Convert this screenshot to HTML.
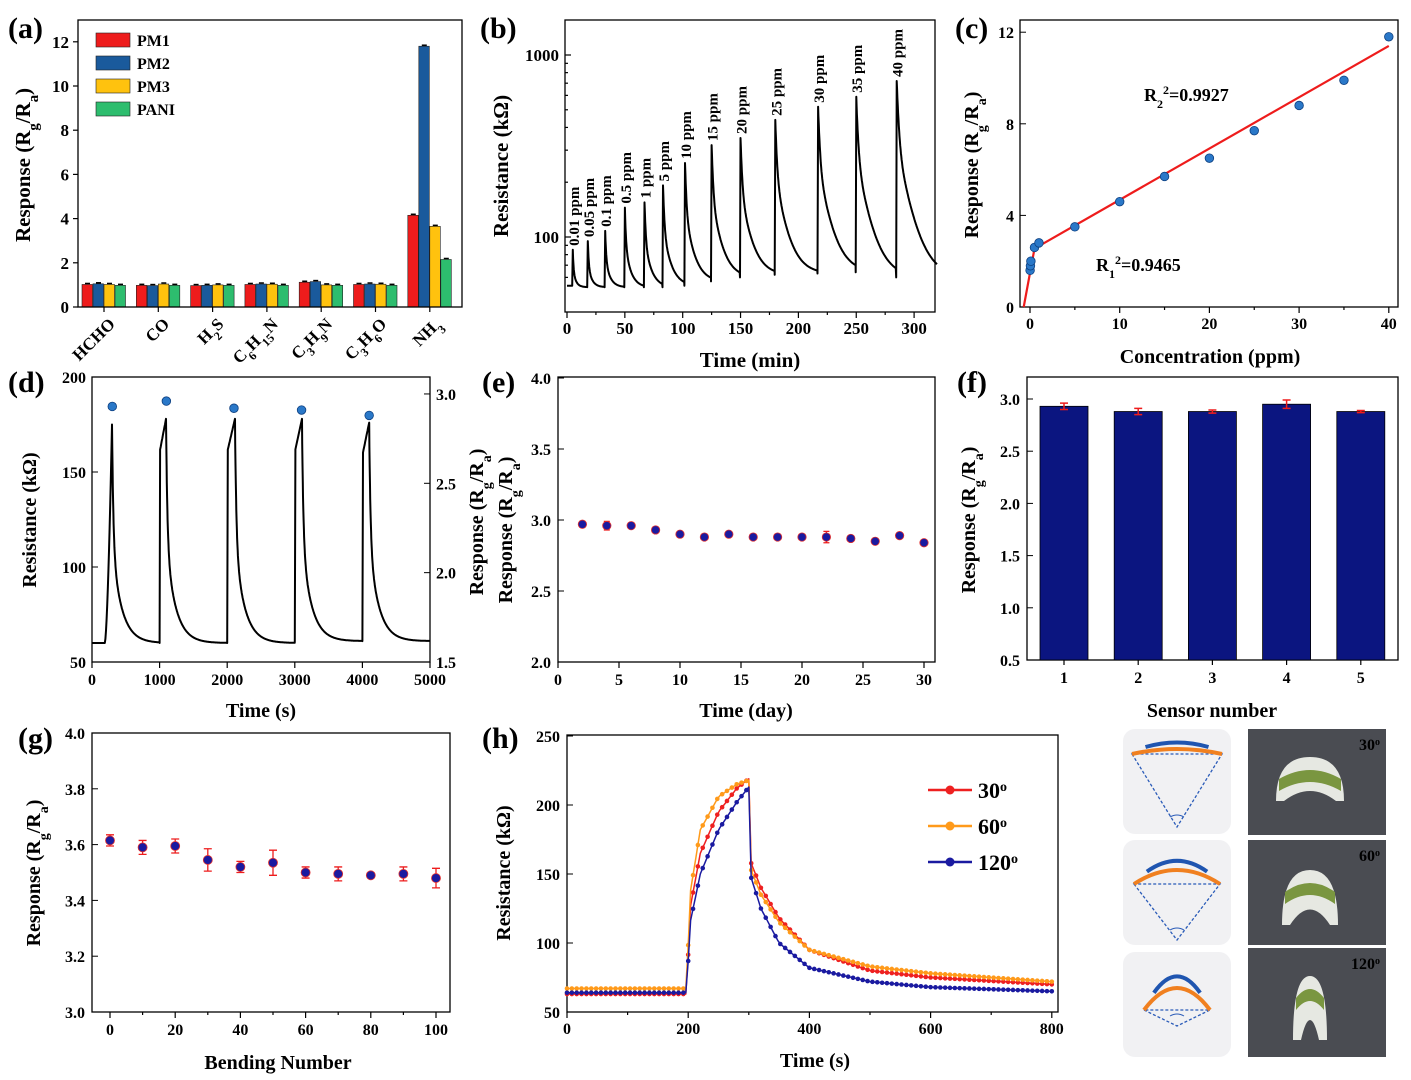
<!DOCTYPE html>
<html><head><meta charset="utf-8">
<style>
html,body{margin:0;padding:0;background:#fff;}
svg{display:block;font-family:"Liberation Serif",serif;font-weight:bold;}
</style></head>
<body>
<svg id="fig" width="1411" height="1080" viewBox="0 0 1411 1080" xmlns="http://www.w3.org/2000/svg">
</svg>
<script>
// ---------- data arrays ----------
const aCats = ['HCHO','CO','H2S','C6H15N','C3H9N','C3H6O','NH3'];
const aPM1 = [1.02,0.98,0.97,1.02,1.12,1.02,4.15];
const aPM2 = [1.05,0.97,0.98,1.04,1.15,1.04,11.8];
const aPM3 = [1.02,1.04,1.0,1.03,1.0,1.03,3.65];
const aPANI = [0.98,0.98,0.98,0.98,0.98,0.98,2.15];
const aSeriesNames = ['PM1','PM2','PM3','PANI'];
const aTicks = [0,2,4,6,8,10,12];

const bPeakTimes = [5,18,33,50,67,83,102,125,150,180,217,250,285];
const bPeakVals = [85,95,108,145,155,192,255,320,350,440,520,590,720];
const bBaseVals = [54,53,53,53,53,53,54,57,60,62,63,64,60];
const bLabels = ['0.01 ppm','0.05 ppm','0.1 ppm','0.5 ppm','1 ppm','5 ppm','10 ppm','15 ppm','20 ppm','25 ppm','30 ppm','35 ppm','40 ppm'];
const bXTicks = [0,50,100,150,200,250,300];

const cConc = [0.01,0.05,0.1,0.5,1,5,10,15,20,25,30,35,40];
const cResp = [1.6,1.8,2.0,2.6,2.8,3.5,4.6,5.7,6.5,7.7,8.8,9.9,11.8];
const cFitX = [-0.7,0.5,40];
const cFitY = [0,2.55,11.4];
const cXTicks = [0,10,20,30,40];
const cYTicks = [0,4,8,12];

const dOnsets = [190,1000,2000,3000,4000];
const dPeakT = [296,1095,2115,3106,4100];
const dPeakV = [175,178,178,178,176];
const dBase = [60,60,60,61,61];
const dRespT = [300,1100,2100,3100,4100];
const dRespV = [2.93,2.96,2.92,2.91,2.88];
const dXTicks = [0,1000,2000,3000,4000,5000];
const dYTicks = [50,100,150,200];
const dY2Ticks = [1.5,2.0,2.5,3.0];

const eDays = [2,4,6,8,10,12,14,16,18,20,22,24,26,28,30];
const eResp = [2.97,2.96,2.96,2.93,2.90,2.88,2.90,2.88,2.88,2.88,2.88,2.87,2.85,2.89,2.84];
const eErr = [0.02,0.03,0.015,0.02,0.02,0.015,0.01,0.01,0.01,0.015,0.04,0.02,0.01,0.015,0.01];
const eXTicks = [0,5,10,15,20,25,30];
const eYTicks = [2.0,2.5,3.0,3.5,4.0];

const fSensors = [1,2,3,4,5];
const fResp = [2.93,2.88,2.88,2.95,2.88];
const fErr = [0.03,0.03,0.015,0.04,0.01];
const fYTicks = [0.5,1.0,1.5,2.0,2.5,3.0];

const gBend = [0,10,20,30,40,50,60,70,80,90,100];
const gResp = [3.615,3.59,3.595,3.545,3.52,3.535,3.50,3.495,3.49,3.495,3.48];
const gErr = [0.02,0.025,0.025,0.04,0.02,0.045,0.02,0.025,0.008,0.025,0.035];
const gXTicks = [0,20,40,60,80,100];
const gYTicks = [3.0,3.2,3.4,3.6,3.8,4.0];

const hT = [0,199,201,220,250,280,300,302,320,350,400,500,600,800];
const h30 = [63,63,120,165,195,212,219,160,140,118,95,80,75,70];
const h60 = [67,67,130,182,206,215,218,155,135,115,95,83,78,72];
const h120 = [64,64,110,150,182,202,213,150,125,100,82,72,68,65];
const hNames = ['30°','60°','120°'];
const hXTicks = [0,200,400,600,800];
const hYTicks = [50,100,150,200,250];

// ---------- helpers ----------
const NS='http://www.w3.org/2000/svg';
const svg=document.getElementById('fig');
function mk(tag,attrs,parent){const e=document.createElementNS(NS,tag);for(const k in attrs)e.setAttribute(k,attrs[k]);(parent||svg).appendChild(e);return e;}
function txt(s,x,y,size,anchor,parent,rot){const t=mk('text',{x:x,y:y,'font-size':size,'text-anchor':anchor||'middle',fill:'#000'},parent);t.textContent=s;if(rot!==undefined)t.setAttribute('transform','rotate('+rot+' '+x+' '+y+')');return t;}
function frame(x0,y0,x1,y1){const r=mk('rect',{x:x0,y:y0,width:x1-x0,height:y1-y0,fill:'none',stroke:'#000','stroke-width':1.3});

return r;}
function tickX(x,y,len){mk('line',{x1:x,y1:y,x2:x,y2:y+len,stroke:'#000','stroke-width':1.2});}
function tickY(x,y,len){mk('line',{x1:x,y1:y,x2:x-len,y2:y,stroke:'#000','stroke-width':1.2});}
function respTitle(x,y,size){const t=mk('text',{x:x,y:y,'font-size':size,'text-anchor':'middle',transform:'rotate(-90 '+x+' '+y+')'});
t.innerHTML='Response (R<tspan baseline-shift="sub" font-size="'+(size*0.7)+'">g</tspan>/R<tspan baseline-shift="sub" font-size="'+(size*0.7)+'">a</tspan>)';return t;}
function panelLabel(s,x,y){const t=txt(s,x,y,30,'start');

}
function poly(pts,color,w,parent){return mk('polyline',{points:pts.map(p=>p[0].toFixed(1)+','+p[1].toFixed(1)).join(' '),fill:'none',stroke:color,'stroke-width':w,'stroke-linejoin':'round'},parent);}

// ---------- panel (a) ----------
(function(){
const g=mk('g',{});


const X0=78,X1=462,Y0=20,Y1=307;
const y=v=>Y1-v*22.1;
const cx=i=>104+i*54.3;
const colors=['#ee1c1c','#1a5a9c','#ffc20e','#2dbd6e'];
const series=[aPM1,aPM2,aPM3,aPANI];
series.forEach((s,k)=>{s.forEach((v,i)=>{
 const r=mk('rect',{x:cx(i)-22+k*11,y:y(v),width:10.5,height:Y1-y(v),fill:colors[k],stroke:'#222','stroke-width':0.6},g);
 
 
 mk('line',{x1:cx(i)-19+k*11,x2:cx(i)-14+k*11,y1:y(v)-1,y2:y(v)-1,stroke:'#000','stroke-width':1.5},g);
});});
frame(X0,Y0,X1,Y1);
aTicks.forEach(v=>{tickY(X0,y(v),5);txt(String(v),X0-9,y(v)+6,17,'end');});
aCats.forEach((c,i)=>{tickX(cx(i),Y1,5);
 const lab={'HCHO':'HCHO','CO':'CO','H2S':'H<tspan baseline-shift="sub" font-size="12">2</tspan>S','C6H15N':'C<tspan baseline-shift="sub" font-size="12">6</tspan>H<tspan baseline-shift="sub" font-size="12">15</tspan>N','C3H9N':'C<tspan baseline-shift="sub" font-size="12">3</tspan>H<tspan baseline-shift="sub" font-size="12">9</tspan>N','C3H6O':'C<tspan baseline-shift="sub" font-size="12">3</tspan>H<tspan baseline-shift="sub" font-size="12">6</tspan>O','NH3':'NH<tspan baseline-shift="sub" font-size="12">3</tspan>'}[c];
 const t=mk('text',{x:cx(i)+12,y:Y1+18,'font-size':17,'text-anchor':'end',transform:'rotate(-45 '+(cx(i)+12)+' '+(Y1+18)+')'});
 t.innerHTML=lab;
 
 });
const yt=respTitle(30,165,21);


aSeriesNames.forEach((n,k)=>{
 const r=mk('rect',{x:96,y:33+k*23,width:34,height:14,fill:colors[k],stroke:'#222','stroke-width':0.6});
 
 
 const t=txt(n,137,46+k*23,16,'start');
 
 });
panelLabel('(a)',8,38);
})();

// ---------- panel (b) ----------
(function(){
const X0=565,X1=935,Y0=20,Y1=312;
const x=t=>567+t*1.157;
const y=v=>237-(Math.log10(v)-2)*182;
frame(X0,Y0,X1,Y1);
bXTicks.forEach(t=>{tickX(x(t),Y1,6);txt(String(t),x(t),Y1+22,17);});
bXTicks.slice(0,-1).forEach(t=>tickX(x(t+25),Y1,3));
[60,70,80,90,100,200,300,400,500,600,700,800,900,1000].forEach(v=>{const yy=y(v);if(yy>Y0&&yy<Y1){mk('line',{x1:X0,x2:X0+(v===100||v===1000?6:3),y1:yy,y2:yy,stroke:'#000','stroke-width':1.2});}});
txt('1000',X0-6,y(1000)+6,17,'end');txt('100',X0-6,y(100)+6,17,'end');
const pts=[[0,bBaseVals[0]]];
bPeakTimes.forEach((tp,i)=>{
 const base=bBaseVals[i];pts.push([tp-0.5,base]);pts.push([tp,bPeakVals[i]]);
 const tend=i<bPeakTimes.length-1?bPeakTimes[i+1]-0.5:320;
 const nb=i<bPeakTimes.length-1?bBaseVals[i+1]:bBaseVals[i];
 const k1=0.6+0.08*i, k2=2.5+0.7*i;
 for(let t=tp+0.3;t<=tend;t+=0.3){const dt=t-tp;pts.push([t,nb+(bPeakVals[i]-nb)*(0.6*Math.exp(-dt/k1)+0.4*Math.exp(-dt/k2))]);}
});
const p=poly(pts.map(q=>[x(q[0]),y(q[1])]),'#000',2);


bPeakTimes.forEach((tp,i)=>{const t=txt(bLabels[i],x(tp)+6,y(bPeakVals[i])-4,15,'start',svg,-90);
 
 });
const yt=txt('Resistance (kΩ)',508,166,21,'middle',svg,-90);


const xt=txt('Time (min)',750,367,21);


panelLabel('(b)',480,38);
})();

// ---------- panel (c) ----------
(function(){
const X0=1020,X1=1398,Y0=20,Y1=307;
const x=v=>1030+v*8.97;const y=v=>307-v*22.9;
frame(X0,Y0,X1,Y1);
cXTicks.forEach(v=>{tickX(x(v),Y1,6);txt(String(v),x(v),Y1+22,16);});
cXTicks.slice(0,-1).forEach(v=>tickX(x(v+5),Y1,3));
cYTicks.forEach(v=>{mk('line',{x1:X0,x2:X0+6,y1:y(v),y2:y(v),stroke:'#000'});txt(String(v),X0-6,y(v)+6,16,'end');});
const f=poly(cFitX.map((v,i)=>[x(v),y(cFitY[i])]),'#ee1c1c',2.2);


cConc.forEach((c,i)=>{const d=mk('circle',{cx:x(c),cy:y(cResp[i]),r:4.3,fill:'#2a78c8',stroke:'#0d3f80','stroke-width':0.8});
 
 });
const t1=mk('text',{x:1144,y:101,'font-size':18});t1.innerHTML='R<tspan baseline-shift="sub" font-size="12">2</tspan><tspan baseline-shift="super" font-size="12">2</tspan>=0.9927';


const t2=mk('text',{x:1096,y:271,'font-size':18});t2.innerHTML='R<tspan baseline-shift="sub" font-size="12">1</tspan><tspan baseline-shift="super" font-size="12">2</tspan>=0.9465';


const yt=respTitle(978,165,20);


const xt=txt('Concentration (ppm)',1210,363,20);


panelLabel('(c)',955,38);
})();

// ---------- panel (d) ----------
(function(){
const X0=92,X1=430,Y0=377,Y1=662;
const x=t=>92+t*0.0676;const y=v=>662-(v-50)*1.9;const y2=v=>662-(v-1.5)*178.7;
frame(X0,Y0,X1,Y1);
dXTicks.forEach(t=>{tickX(x(t),Y1,6);txt(String(t),x(t),Y1+23,16);});
dYTicks.forEach(v=>{mk('line',{x1:X0,x2:X0+6,y1:y(v),y2:y(v),stroke:'#000'});txt(String(v),X0-6,y(v)+6,16,'end');});
dY2Ticks.forEach(v=>{mk('line',{x1:X1,x2:X1-6,y1:y2(v),y2:y2(v),stroke:'#000'});txt(v.toFixed(1),X1+6,y2(v)+6,16,'start');});
const pts=[[0,dBase[0]]];
dOnsets.forEach((to,i)=>{
 pts.push([to,dBase[i]]);
 const rise=dPeakT[i]-to;
 for(let s=1;s<=12;s++){const f=s/12;pts.push([to+rise*f,dBase[i]+(dPeakV[i]-dBase[i])*(i===0?Math.pow(f,1.6):0.85+0.15*f)]);}
 const tend=i<dOnsets.length-1?dOnsets[i+1]:5000;
 for(let t=dPeakT[i]+4;t<=tend;t+=4){const dt=t-dPeakT[i];pts.push([t,dBase[i]+(dPeakV[i]-dBase[i])*(0.55*Math.exp(-dt/20)+0.45*Math.exp(-dt/140))]);}
});
const p=poly(pts.map(q=>[x(q[0]),y(q[1])]),'#000',2);


dRespT.forEach((t,i)=>{const d=mk('circle',{cx:x(t),cy:y2(dRespV[i]),r:4.3,fill:'#2a78c8',stroke:'#0d3f80','stroke-width':0.8});
 
 });
const yt=txt('Resistance (kΩ)',36,520,20,'middle',svg,-90);


const xt=txt('Time (s)',261,717,20);


panelLabel('(d)',8,392);
})();

// ---------- panel (e) ----------
(function(){
const X0=558,X1=935,Y0=377,Y1=662;
const x=v=>558+v*12.2;const y=v=>662-(v-2)*142;
frame(X0,Y0,X1,Y1);
eXTicks.forEach(v=>{tickX(x(v),Y1,6);txt(String(v),x(v),Y1+23,16);});
eYTicks.forEach(v=>{mk('line',{x1:X0,x2:X0+6,y1:y(v),y2:y(v),stroke:'#000'});txt(v.toFixed(1),X0-7,y(v)+6,16,'end');});
eDays.forEach((d,i)=>{
 const e=mk('path',{d:'M'+(x(d)-3)+','+y(eResp[i]+eErr[i])+'h6M'+x(d)+','+y(eResp[i]+eErr[i])+'V'+y(eResp[i]-eErr[i])+'M'+(x(d)-3)+','+y(eResp[i]-eErr[i])+'h6',stroke:'#ee1c1c','stroke-width':1.3,fill:'none'});
 
 
 const c=mk('circle',{cx:x(d),cy:y(eResp[i]),r:4.2,fill:'#1a1aa0',stroke:'#e03030','stroke-width':0.8});
 
 });
const yt=respTitle(483,522,20);


const yt2=respTitle(512,530,20);


const xt=txt('Time (day)',746,717,20);


panelLabel('(e)',482,392);
})();

// ---------- panel (f) ----------
(function(){
const X0=1027,X1=1398,Y0=377,Y1=660;
const x=v=>1064+(v-1)*74.2;const y=v=>660-(v-0.5)*104.4;
frame(X0,Y0,X1,Y1);
fSensors.forEach((s,i)=>{
 const r=mk('rect',{x:x(s)-24,y:y(fResp[i]),width:48,height:Y1-y(fResp[i]),fill:'#0b1580',stroke:'#000','stroke-width':0.8});
 
 
 const e=mk('path',{d:'M'+(x(s)-4)+','+y(fResp[i]+fErr[i])+'h8M'+x(s)+','+y(fResp[i]+fErr[i])+'V'+y(fResp[i]-fErr[i])+'M'+(x(s)-4)+','+y(fResp[i]-fErr[i])+'h8',stroke:'#ee1c1c','stroke-width':1.5,fill:'none'});
 
 
 tickX(x(s),Y1,5);txt(String(s),x(s),Y1+23,16);});
fYTicks.forEach(v=>{mk('line',{x1:X0,x2:X0+6,y1:y(v),y2:y(v),stroke:'#000'});txt(v.toFixed(1),X0-7,y(v)+6,16,'end');});
const yt=respTitle(975,520,20);


const xt=txt('Sensor number',1212,717,20);


panelLabel('(f)',957,392);
})();

// ---------- panel (g) ----------
(function(){
const X0=92,X1=450,Y0=733,Y1=1012;
const x=v=>110+v*3.26;const y=v=>1012-(v-3)*279;
frame(X0,Y0,X1,Y1);
gXTicks.forEach(v=>{tickX(x(v),Y1,6);txt(String(v),x(v),Y1+23,16);});
gXTicks.slice(0,-1).forEach(v=>tickX(x(v+10),Y1,3));
gYTicks.forEach(v=>{mk('line',{x1:X0,x2:X0+6,y1:y(v),y2:y(v),stroke:'#000'});txt(v.toFixed(1),X0-7,y(v)+6,16,'end');});
gBend.forEach((b,i)=>{
 const e=mk('path',{d:'M'+(x(b)-4)+','+y(gResp[i]+gErr[i])+'h8M'+x(b)+','+y(gResp[i]+gErr[i])+'V'+y(gResp[i]-gErr[i])+'M'+(x(b)-4)+','+y(gResp[i]-gErr[i])+'h8',stroke:'#ee1c1c','stroke-width':1.3,fill:'none'});
 
 
 const c=mk('circle',{cx:x(b),cy:y(gResp[i]),r:4.5,fill:'#1a1aa0',stroke:'#e03030','stroke-width':0.8});
 
 });
const yt=respTitle(40,873,20);


const xt=txt('Bending Number',278,1069,20);


panelLabel('(g)',18,748);
})();

// ---------- panel (h) ----------
(function(){
const X0=567,X1=1058,Y0=735,Y1=1012;
const x=v=>567+v*0.606;const y=v=>1012-(v-50)*1.38;
frame(X0,Y0,X1,Y1);
hXTicks.forEach(v=>{tickX(x(v),Y1,6);txt(String(v),x(v),Y1+22,16);});
hXTicks.slice(0,-1).forEach(v=>tickX(x(v+100),Y1,3));
hYTicks.forEach(v=>{mk('line',{x1:X0,x2:X0+6,y1:y(v),y2:y(v),stroke:'#000'});txt(String(v),X0-7,y(v)+6,16,'end');});
const series=[h30,h60,h120];const cols=['#ee2020','#ff9a1a','#1a1aa0'];
function interp(arr,t){for(let i=1;i<hT.length;i++){if(t<=hT[i]){const f=(t-hT[i-1])/(hT[i]-hT[i-1]);return arr[i-1]+(arr[i]-arr[i-1])*f;}}return arr[arr.length-1];}
series.forEach((s,k)=>{
 const g=mk('g',{});
 
 
 const pts=[];for(let t=0;t<=800;t+=4)pts.push([x(t),y(interp(s,t))]);
 poly(pts,cols[k],1.5,g);
 pts.forEach((p,i)=>{if(i%2===0)mk('circle',{cx:p[0],cy:p[1],r:2.3,fill:cols[k]},g);});
});
hNames.forEach((n,k)=>{
 const yy=790+k*36;
 mk('line',{x1:928,x2:972,y1:yy,y2:yy,stroke:cols[k],'stroke-width':2.5});
 mk('circle',{cx:950,cy:yy,r:4.5,fill:cols[k]});
 const t=mk('text',{x:978,y:yy+8,'font-size':22});t.innerHTML=n.replace('°','')+'<tspan baseline-shift="super" font-size="14">o</tspan>';
 
 });
const yt=txt('Resistance (kΩ)',510,873,20,'middle',svg,-90);


const xt=txt('Time (s)',815,1067,20);


panelLabel('(h)',482,748);
})();

// ---------- bending illustrations & photos ----------
(function(){
const diagY=[729,840,952];const photoY=[729,840,948];const photoH=[106,105,109];
const angles=['30','60','120'];
diagY.forEach((yy,i)=>{
 const g=mk('g',{});
 
 
 mk('rect',{x:1123,y:yy,width:108,height:105,rx:12,fill:'#f1f1f3'},g);
 const cx=1177;const half=[45,43,33][i];const top=yy+[20,30,36][i];const apexY=yy+[98,100,74][i];const bow=[5,14,22][i];
 mk('path',{d:'M'+(cx-half)+','+(top+bow)+' L'+cx+','+apexY+' L'+(cx+half)+','+(top+bow)+' Z',fill:'none',stroke:'#2a5bb8','stroke-width':1.3,'stroke-dasharray':'3,2'},g);
 mk('path',{d:'M'+(cx-half)+','+(top+bow)+' Q'+cx+','+(top-bow)+' '+(cx+half)+','+(top+bow),fill:'none',stroke:'#f08020','stroke-width':4},g);
 mk('path',{d:'M'+(cx-half*0.7)+','+(top+bow*0.4-4)+' Q'+cx+','+(top-bow-6)+' '+(cx+half*0.7)+','+(top+bow*0.4-4),fill:'none',stroke:'#1f55b0','stroke-width':4},g);
 mk('path',{d:'M'+(cx-7)+','+(apexY-10)+' Q'+cx+','+(apexY-14)+' '+(cx+7)+','+(apexY-10),fill:'none',stroke:'#2a5bb8','stroke-width':1},g);
});
photoY.forEach((yy,i)=>{
 const g=mk('g',{});
 
 
 mk('rect',{x:1248,y:yy,width:138,height:photoH[i],fill:'#4a4c52'},g);
 const cx=1310,w=[34,28,17][i],top=yy+[28,30,28][i],bot=yy+[72,85,92][i];
 mk('path',{d:'M'+(cx-w)+','+bot+' Q'+(cx-w)+','+top+' '+cx+','+top+' Q'+(cx+w)+','+top+' '+(cx+w)+','+bot+' L'+(cx+w-8)+','+bot+' Q'+cx+','+(top+24)+' '+(cx-w+8)+','+bot+' Z',fill:'#e6e8e2'},g);
 mk('path',{d:'M'+(cx-w+3)+','+(top+22)+' Q'+cx+','+(top+4)+' '+(cx+w-3)+','+(top+22)+' L'+(cx+w-3)+','+(top+34)+' Q'+cx+','+(top+16)+' '+(cx-w+3)+','+(top+34)+' Z',fill:'#7a9640'},g);
 const t=mk('text',{x:1380,y:yy+21,'font-size':16,'text-anchor':'end'},g);
 t.innerHTML=angles[i]+'<tspan baseline-shift="super" font-size="10">o</tspan>';
 
 
});
})();
</script>
</body></html>
